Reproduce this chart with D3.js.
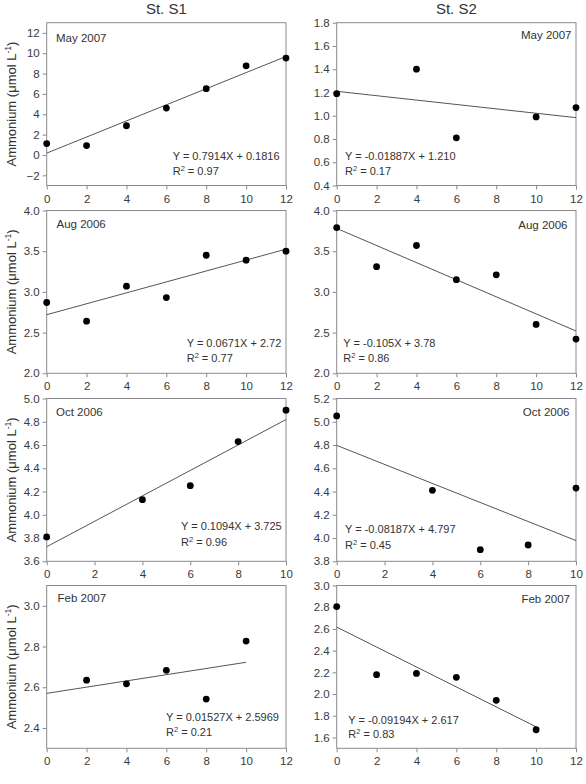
<!DOCTYPE html>
<html><head><meta charset="utf-8">
<script src="https://cdn.jsdelivr.net/npm/d3@7"></script>
<style>body{margin:0;background:#fff}svg{display:block}text{font-family:"Liberation Sans",Arial,sans-serif}</style>
</head><body>
<script>
// ---- data ----
const stations = ["St. S1", "St. S2"];
const dates = ["May 2007", "Aug 2006", "Oct 2006", "Feb 2007"];

const s1May_t = [0, 2, 4, 6, 8, 10, 12];
const s1May_y = [1.12, 0.92, 2.87, 4.61, 6.52, 8.76, 9.52];
const s2May_t = [0, 4, 6, 10, 12];
const s2May_y = [1.19, 1.40, 0.81, 0.99, 1.07];
const s1Aug_t = [0, 2, 4, 6, 8, 10, 12];
const s1Aug_y = [2.87, 2.64, 3.07, 2.93, 3.45, 3.39, 3.50];
const s2Aug_t = [0, 2, 4, 6, 8, 10, 12];
const s2Aug_y = [3.79, 3.31, 3.57, 3.15, 3.21, 2.60, 2.42];
const s1Oct_t = [0, 4, 6, 8, 10];
const s1Oct_y = [3.81, 4.13, 4.25, 4.63, 4.90];
const s2Oct_t = [0, 4, 6, 8, 10];
const s2Oct_y = [5.05, 4.41, 3.90, 3.94, 4.43];
const s1Feb_t = [2, 4, 6, 8, 10];
const s1Feb_y = [2.635, 2.617, 2.683, 2.542, 2.827];
const s2Feb_t = [0, 2, 4, 6, 8, 10];
const s2Feb_y = [2.806, 2.178, 2.19, 2.154, 1.942, 1.671];

// fitted lines (slope, intercept, fit range end)
const fitSlope     = [0.7914, -0.01887, 0.0671, -0.105, 0.1094, -0.08187, 0.01527, -0.09194];
const fitIntercept = [0.1816, 1.210, 2.72, 3.78, 3.725, 4.797, 2.57, 2.617];
const fitEnd       = [12, 12, 12, 12, 10, 10, 10, 10];
const eqText = ["Y = 0.7914X + 0.1816", "Y = -0.01887X + 1.210", "Y = 0.0671X + 2.72", "Y = -0.105X + 3.78",
                "Y = 0.1094X + 3.725", "Y = -0.08187X + 4.797", "Y = 0.01527X + 2.5969", "Y = -0.09194X + 2.617"];
const r2Text = ["0.97", "0.17", "0.77", "0.86", "0.96", "0.45", "0.21", "0.83"];

// axes
const yDomains = [[-3, 13], [0.4, 1.8], [2, 4], [2, 4], [3.6, 5.0], [3.8, 5.2], [2.3, 3.1], [1.5, 3.0]];
const yTicks = [
  [-2, 0, 2, 4, 6, 8, 10, 12],
  [0.4, 0.6, 0.8, 1.0, 1.2, 1.4, 1.6, 1.8],
  [2.0, 2.5, 3.0, 3.5, 4.0],
  [2.0, 2.5, 3.0, 3.5, 4.0],
  [3.6, 3.8, 4.0, 4.2, 4.4, 4.6, 4.8, 5.0],
  [3.8, 4.0, 4.2, 4.4, 4.6, 4.8, 5.0, 5.2],
  [2.4, 2.6, 2.8, 3.0],
  [1.6, 1.8, 2.0, 2.2, 2.4, 2.6, 2.8, 3.0]
];
const yFormats = ["d", ".1f", ".1f", ".1f", ".1f", ".1f", ".1f", ".1f"];
const xDomains = [[0, 12], [0, 12], [0, 12], [0, 12], [0, 10], [0, 10], [0, 12], [0, 12]];
const xTicks = [
  [0, 2, 4, 6, 8, 10, 12], [0, 2, 4, 6, 8, 10, 12], [0, 2, 4, 6, 8, 10, 12], [0, 2, 4, 6, 8, 10, 12],
  [0, 2, 4, 6, 8, 10], [0, 2, 4, 6, 8, 10], [0, 2, 4, 6, 8, 10, 12], [0, 2, 4, 6, 8, 10, 12]
];
const yLabel = "Ammonium (\u03bcmol L";
const xLabel = "Time (h)";

const series = [
  [s1May_t, s1May_y], [s2May_t, s2May_y], [s1Aug_t, s1Aug_y], [s2Aug_t, s2Aug_y],
  [s1Oct_t, s1Oct_y], [s2Oct_t, s2Oct_y], [s1Feb_t, s1Feb_y], [s2Feb_t, s2Feb_y]
];

// ---- layout ----
const W = 586, H = 784;
const colX = [46.7, 336.7], plotW = 239.3;
const rowY = [22.7, 210.5, 398.5, 585.5], plotH = 162.8;
// equation placement [x, baseline y of first line, line gap]
const eqPos = [[172.7, 160, 14.5], [345, 160, 15], [186.7, 347, 15], [343.3, 347, 15],
               [181, 530, 16], [345, 533, 16], [166, 721, 14.5], [348.3, 724, 14]];
const datePos = [[56, 42, "start"], [571.5, 39, "end"], [56.5, 228, "start"], [567.5, 229, "end"],
                 [56, 416, "start"], [569.5, 416, "end"], [57.5, 602, "start"], [570, 603, "end"]];

const svg = d3.select("body").append("svg").attr("width", W).attr("height", H);
const frameCol = "#8a8a8a", textCol = "#333";

series.forEach((s, i) => {
  const col = i % 2, row = Math.floor(i / 2);
  const x0 = colX[col], y0 = rowY[row];
  const x = d3.scaleLinear().domain(xDomains[i]).range([x0, x0 + plotW]);
  const y = d3.scaleLinear().domain(yDomains[i]).range([y0 + plotH, y0]);
  const g = svg.append("g");

  // frame
  g.append("rect").attr("x", x0).attr("y", y0).attr("width", plotW).attr("height", plotH)
    .attr("fill", "none").attr("stroke", frameCol).attr("stroke-width", 1);

  const ya = g.append("g").attr("transform", `translate(${x0},0)`)
    .call(d3.axisLeft(y).tickValues(yTicks[i]).tickFormat(d3.format(yFormats[i])).tickSize(4).tickPadding(3));
  const xa = g.append("g").attr("transform", `translate(0,${y0 + plotH})`)
    .call(d3.axisBottom(x).tickValues(xTicks[i]).tickFormat(d3.format("d")).tickSize(4).tickPadding(5));
  [ya, xa].forEach(a => {
    a.select(".domain").remove();
    a.selectAll(".tick line").attr("stroke", frameCol);
    a.selectAll(".tick text").attr("fill", "#3a3a3a").style("font-size", "11.5px").style("font-family", '"Liberation Sans",Arial,sans-serif');
  });

  // fit line
  g.append("line")
    .attr("x1", x(0)).attr("y1", y(fitIntercept[i]))
    .attr("x2", x(fitEnd[i])).attr("y2", y(fitIntercept[i] + fitSlope[i] * fitEnd[i]))
    .attr("stroke", "#555").attr("stroke-width", 1);

  // points
  g.selectAll("circle").data(s[0].map((t, k) => [t, s[1][k]])).join("circle")
    .attr("cx", d => x(d[0])).attr("cy", d => y(d[1])).attr("r", 3.4).attr("fill", "#000");

  // date label
  g.append("text").attr("x", datePos[i][0]).attr("y", datePos[i][1]).attr("text-anchor", datePos[i][2])
    .attr("fill", textCol).style("font-size", "11.5px").text(dates[row]);

  // equation
  const [ex, ey, eg] = eqPos[i];
  g.append("text").attr("x", ex).attr("y", ey).attr("fill", textCol).style("font-size", "11px").text(eqText[i]);
  const r2 = g.append("text").attr("x", ex).attr("y", ey + eg).attr("fill", textCol).style("font-size", "11px");
  r2.append("tspan").text("R");
  r2.append("tspan").attr("dy", -4).style("font-size", "7.5px").text("2");
  r2.append("tspan").attr("dy", 4).text(" = " + r2Text[i]);

  // y label on left column
  if (col === 0) {
    const cy = y0 + plotH / 2;
    const t = svg.append("text").attr("transform", `translate(15.5,${cy}) rotate(-90)`)
      .attr("text-anchor", "middle").attr("fill", textCol).style("font-size", "13px");
    t.append("tspan").text(yLabel);
    t.append("tspan").attr("dy", -5).style("font-size", "8.5px").text("-1");
    t.append("tspan").attr("dy", 5).text(")");
  }
});

// station titles
stations.forEach((st, c) => {
  svg.append("text").attr("x", colX[c] + plotW / 2).attr("y", 14).attr("text-anchor", "middle")
    .attr("fill", textCol).style("font-size", "15px").text(st);
  svg.append("text").attr("x", [150, 410][c]).attr("y", 793).attr("text-anchor", "middle")
    .attr("fill", textCol).style("font-size", "13px").text(xLabel);
});
</script>
</body></html>
